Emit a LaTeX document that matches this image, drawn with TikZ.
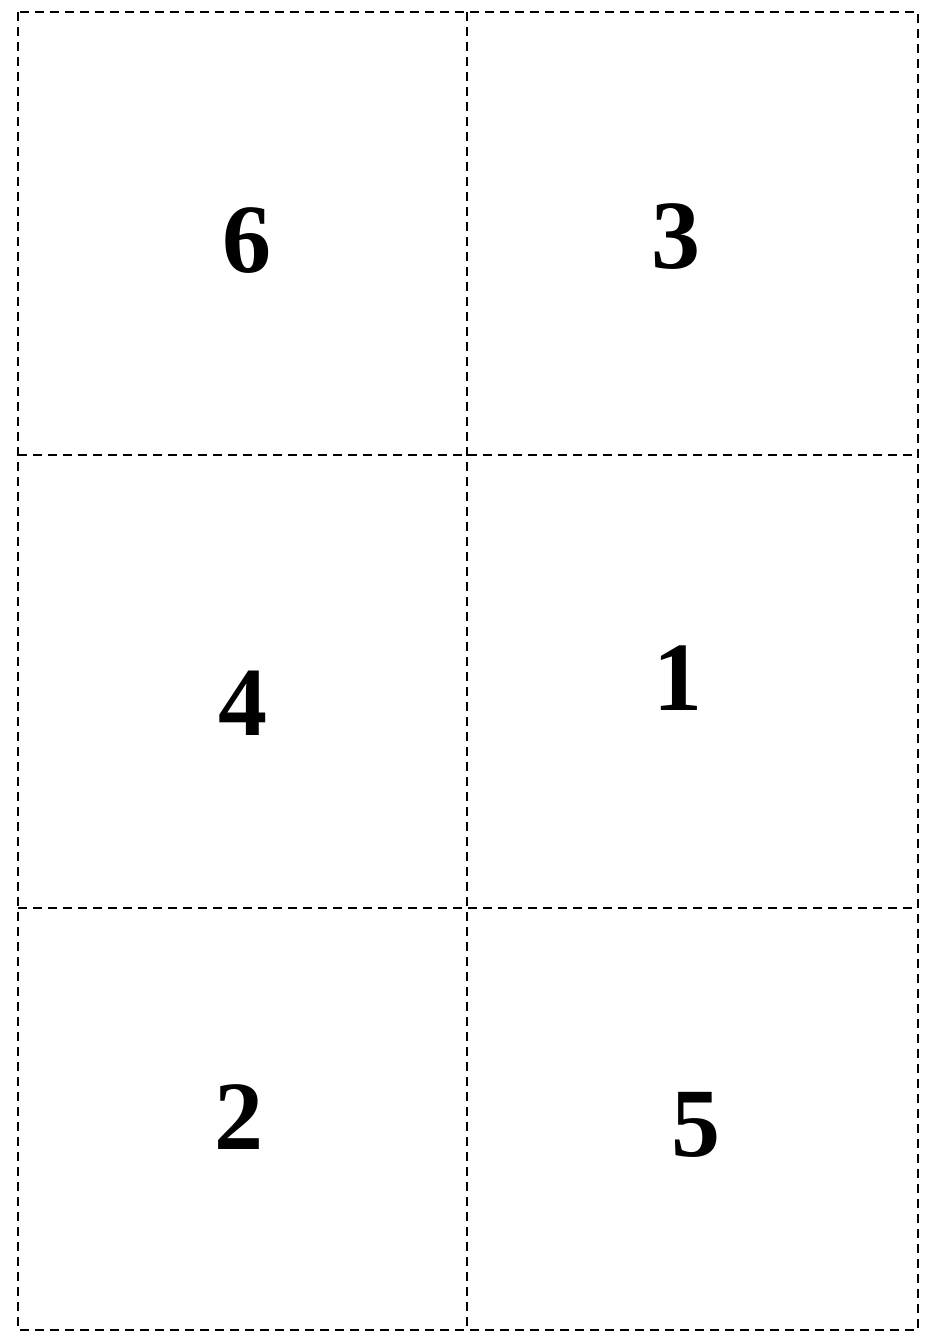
\documentclass[tikz,border=0pt]{standalone}
\usepackage{fontspec}
\setmainfont{Liberation Serif}
\usepackage{tikz}

\tikzset{
  gridline/.style={line width=1.1pt, dash pattern=on 4.5pt off 3pt},
  pagenum/.style={font=\fontsize{49}{49}\selectfont\bfseries, inner sep=0pt}
}

\begin{document}
\begin{tikzpicture}[x=0.5pt, y=-0.5pt]
    \useasboundingbox (0,0) rectangle (931,1334);

    % outer frame and cuts
    \draw[gridline] (18,12) rectangle (918,1330);
    \draw[gridline] (467,12) -- (467,1330);
    \draw[gridline] (18,455) -- (918,455);
    \draw[gridline] (18,908) -- (918,908);

    % page numbers
    \node[pagenum] (p6) at (247,241) {6};
    \node[pagenum] (p3) at (676,237) {3};
    \node[pagenum] (p4) at (243,703) {4};
    \node[pagenum] (p1) at (678,678) {1};
    \node[pagenum] (p2) at (239,1117) {2};
    \node[pagenum] (p5) at (696,1125) {5};
\end{tikzpicture}
\end{document}
